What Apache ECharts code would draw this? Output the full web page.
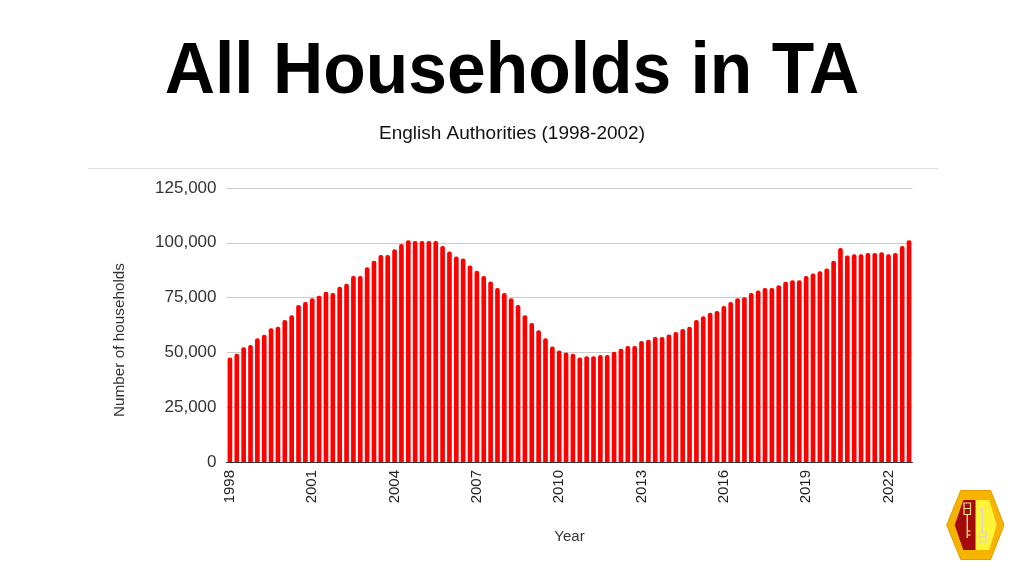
<!DOCTYPE html>
<html>
<head>
<meta charset="utf-8">
<script src="https://cdn.jsdelivr.net/npm/echarts@6/dist/echarts.min.js"></script>
<style>html,body{margin:0;padding:0;background:#fff}#c{width:1024px;height:576px}</style>
</head>
<body>
<div id="c"></div>
<script>
const titleText = 'All Households in TA';
const subtitleText = 'English Authorities (1998-2002)';
const yAxisName = 'Number of households';
const xAxisName = 'Year';
const years = [1998,1999,2000,2001,2002,2003,2004,2005,2006,2007,2008,2009,2010,2011,2012,2013,2014,2015,2016,2017,2018,2019,2020,2021,2022];
const quarters = ['Q1','Q2','Q3','Q4'];
const categories = [];
years.forEach(y => quarters.forEach(q => categories.push(y + ' ' + q)));
const households = [
  47700,49400,52300,53400,56400,58100,61000,61700,64800,66900,
  71600,73000,74700,75800,77700,77100,79900,81300,84800,84800,
  88900,91800,94400,94400,97100,99400,101200,100800,100800,100800,
  100800,98500,96000,93800,92800,89600,87200,84800,82300,79400,
  77100,74700,71600,66900,63400,60100,56400,52700,50900,50000,
  49400,47700,48200,48200,48800,48800,50300,51700,52900,52900,
  55200,55800,57000,57000,58200,59300,60700,61700,64800,66500,
  68100,68900,71200,73000,74700,75200,77100,78200,79400,79400,
  80600,82200,82900,82900,84800,86000,87000,88300,91800,97600,
  94200,94800,94800,95300,95300,95700,94800,95300,98500,101200
];
const yTicks = [0,25000,50000,75000,100000,125000];

const chart = echarts.init(document.getElementById('c'), null, {renderer:'canvas'});
const F = '"Liberation Sans", Arial, sans-serif';
chart.setOption({
  backgroundColor:'#fff',
  animation:false,
  graphic:[
    {type:'text', x:512, y:36.5, scaleX:0.953, style:{text:titleText, font:'bold 73px ' + F, fill:'#000', align:'center', verticalAlign:'top'}},
    {type:'text', x:512, y:125.5, scaleX:1.055, style:{text:subtitleText, font:'18px ' + F, fill:'#111', align:'center', verticalAlign:'top'}},
    {type:'text', x:119.5, y:340, rotation:Math.PI/2, style:{text:yAxisName, font:'15.3px ' + F, fill:'#333', align:'center', verticalAlign:'middle'}},
    {type:'line', shape:{x1:88,y1:168.5,x2:938,y2:168.5}, style:{stroke:'#dddddd', lineWidth:1}},
    {type:'group', children:[
      {type:'polygon', shape:{points:[[960.7,490.5],[990.7,490.5],[1004,525],[990.7,559.5],[960.7,559.5],[946.7,525]]}, style:{fill:'#f4b400', stroke:'#e89a00', lineWidth:1}},
      {type:'polygon', shape:{points:[[963.3,500],[975.7,500],[975.7,550],[963.3,550],[954.7,525]]}, style:{fill:'#a50a0a'}},
      {type:'polygon', shape:{points:[[975.7,500],[989.3,500],[996.7,525],[989.3,550],[975.7,550]]}, style:{fill:'#fff23a'}},
      {type:'rect', shape:{x:964,y:503,width:6.5,height:5.5}, style:{fill:'none', stroke:'#f6d98a', lineWidth:1.2}},
      {type:'rect', shape:{x:964,y:508.5,width:6.5,height:6}, style:{fill:'none', stroke:'#f6d98a', lineWidth:1.2}},
      {type:'line', shape:{x1:967.3,y1:514.5,x2:967.3,y2:538}, style:{stroke:'#f6d98a', lineWidth:1.4}},
      {type:'line', shape:{x1:967.3,y1:531,x2:970.5,y2:531}, style:{stroke:'#f6d98a', lineWidth:1.2}},
      {type:'line', shape:{x1:967.3,y1:535,x2:970.5,y2:535}, style:{stroke:'#f6d98a', lineWidth:1.2}},
      {type:'line', shape:{x1:982.3,y1:508,x2:982.3,y2:532}, style:{stroke:'#d8d8d0', lineWidth:1.4}},
      {type:'line', shape:{x1:982.3,y1:510,x2:979.5,y2:510}, style:{stroke:'#d8d8d0', lineWidth:1.2}},
      {type:'rect', shape:{x:979.5,y:532,width:6.5,height:5}, style:{fill:'none', stroke:'#d8d8d0', lineWidth:1.2}},
      {type:'rect', shape:{x:979.5,y:537,width:6.5,height:5}, style:{fill:'none', stroke:'#d8d8d0', lineWidth:1.2}}
    ]}
  ],
  grid:{left:226.5, right:1024-912.5, top:188, bottom:576-462, containLabel:false},
  xAxis:{
    type:'category', data:categories, boundaryGap:true,
    name:xAxisName, nameLocation:'middle', nameGap:67,
    nameTextStyle:{fontFamily:F, fontSize:15, color:'#333'},
    axisLine:{show:true, lineStyle:{color:'#333', width:1}},
    axisTick:{show:false},
    axisLabel:{interval:11, rotate:90, margin:8, fontFamily:F, fontSize:15, color:'#222',
      formatter:v => v.slice(0,4)}
  },
  yAxis:{
    type:'value', min:0, max:125000, interval:25000,
    axisLine:{show:false}, axisTick:{show:false},
    splitLine:{lineStyle:{color:'#cccccc', width:1}},
    axisLabel:{margin:10, fontFamily:F, fontSize:17, color:'#333',
      formatter:v => v.toLocaleString('en-US')}
  },
  series:[{
    type:'bar', data:households, barWidth:'68%',
    itemStyle:{color:'#ff0000', borderRadius:[2,2,0,0]}
  }]
});
</script>
</body>
</html>
